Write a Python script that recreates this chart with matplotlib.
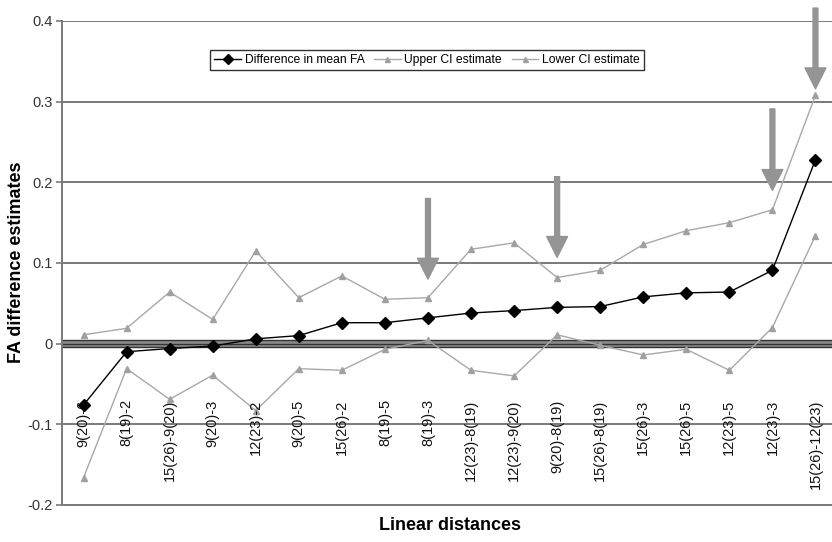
import numpy as np
import matplotlib
matplotlib.use("Agg")
import matplotlib.pyplot as plt

plt.rcParams['font.family'] = ['Liberation Sans', 'DejaVu Sans']

labels = ["9(20)-6", "8(19)-2", "15(26)-9(20)", "9(20)-3", "12(23)-2", "9(20)-5",
          "15(26)-2", "8(19)-5", "8(19)-3", "12(23)-8(19)", "12(23)-9(20)", "9(20)-8(19)",
          "15(26)-8(19)", "15(26)-3", "15(26)-5", "12(23)-5", "12(23)-3", "15(26)-12(23)"]
diff = [-0.076, -0.010, -0.006, -0.003, 0.006, 0.010, 0.026, 0.026, 0.032, 0.038,
        0.041, 0.045, 0.046, 0.058, 0.063, 0.064, 0.091, 0.228]
upper = [0.011, 0.019, 0.064, 0.030, 0.115, 0.057, 0.084, 0.055, 0.057, 0.117,
         0.125, 0.082, 0.091, 0.123, 0.140, 0.150, 0.166, 0.308]
lower = [-0.166, -0.031, -0.069, -0.039, -0.083, -0.031, -0.033, -0.007, 0.004, -0.033,
         -0.040, 0.011, -0.002, -0.014, -0.007, -0.033, 0.020, 0.134]
# arrows: category index, top of shaft, tip
arrow_idx = [8, 11, 16, 17]
arrow_top = [0.18, 0.207, 0.291, 0.416]
arrow_tip = [0.08, 0.107, 0.19, 0.316]

x = np.arange(len(labels))
fig = plt.figure(figsize=(8.32, 5.42), dpi=100)
ax = fig.add_axes([62/832, 37/542, 775/832, 484/542])

grid_c = '#7a7a7a'
for v in [-0.1, 0.1, 0.2, 0.3, 0.4]:
    ax.axhline(v, color=grid_c, lw=1.4, zorder=1)
ax.axhspan(-0.004, 0.004, color='#8a8a8a', zorder=1, lw=0)
for v in [-0.004, 0.0, 0.004]:
    ax.axhline(v, color='#333333', lw=1.0, zorder=1)

ax.plot(x, diff, color='black', lw=1.0, marker='D', ms=6, zorder=4,
        label='Difference in mean FA')
ax.plot(x, upper, color='#a8a8a8', lw=1.0, marker='^', ms=4.5, mfc='#a0a0a0',
        mec='#a0a0a0', zorder=3, label='Upper CI estimate')
ax.plot(x, lower, color='#a8a8a8', lw=1.0, marker='^', ms=4.5, mfc='#a0a0a0',
        mec='#a0a0a0', zorder=3, label='Lower CI estimate')

for i, t, b in zip(arrow_idx, arrow_top, arrow_tip):
    ax.annotate('', xy=(i, b), xytext=(i, t), annotation_clip=False,
                arrowprops=dict(width=3.5, headwidth=15, headlength=15,
                                color='#949494', shrink=0), zorder=5)

for i, lab in enumerate(labels):
    ax.text(i, -0.069, lab, rotation=90, ha='center', va='top', fontsize=10.5,
            color='#111111')

ax.set_xlim(-0.5, 17.5)
ax.set_ylim(-0.2, 0.4)
ax.set_xticks([])
ax.set_yticks([-0.2, -0.1, 0, 0.1, 0.2, 0.3, 0.4])
ax.set_yticklabels(['-0.2', '-0.1', '0', '0.1', '0.2', '0.3', '0.4'])
ax.tick_params(axis='y', length=4, width=1.2, color=grid_c, labelsize=10.5,
               labelcolor='#333333', pad=3)
for s in ['top', 'right']:
    ax.spines[s].set_visible(False)
ax.spines['left'].set_color(grid_c)
ax.spines['left'].set_linewidth(1.4)
ax.spines['bottom'].set_color(grid_c)
ax.spines['bottom'].set_linewidth(1.4)

fig.text(17/832, 1-262/542, 'FA difference estimates', rotation=90, ha='center',
         va='center', fontsize=13, fontweight='bold')
fig.text(450/832, 17/542, 'Linear distances', ha='center', va='center',
         fontsize=13, fontweight='bold')

leg = ax.legend(loc='center', bbox_to_anchor=((427-62)/775, 1-(60-21)/484), ncol=3,
                fontsize=8.7, frameon=True, fancybox=False, edgecolor='black',
                handlelength=2.2, handletextpad=0.3, columnspacing=0.8,
                borderpad=0.35, markerscale=0.8)
leg.get_frame().set_linewidth(1.0)

fig.savefig('out.png', dpi=100)
